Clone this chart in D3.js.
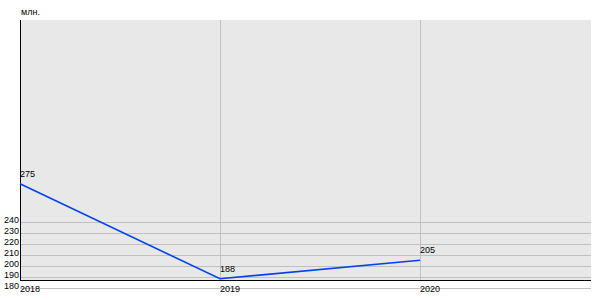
<!DOCTYPE html>
<html lang="ru">
<head>
<meta charset="utf-8">
<script src="https://d3js.org/d3.v7.min.js"></script>
<style>
  body { margin: 0; background: #fff; }
  text { font-family: "Liberation Sans", Arial, sans-serif; font-size: 9px; fill: #000; }
</style>
</head>
<body>
<div id="chart"></div>
<script>
// data
const years = [2018, 2019, 2020];
const values = [275, 188, 205];
const yTicks = [180, 190, 200, 210, 220, 230, 240];
const unitLabel = "млн.";

const width = 600, height = 300;
const plotLeft = 20, plotRight = 591, plotTop = 20, plotBottom = 280.5;

const svg = d3.select("#chart").append("svg")
  .attr("width", width)
  .attr("height", height);

// x: one year = 200px, plot runs a bit past the last year
const x = d3.scaleLinear().domain([2018, 2020]).range([plotLeft, 420]);
// y: the ticks only cover the bottom of the plot
const y = d3.scaleLinear().domain([180, 240]).range([287.5, 222]);

// plot background
svg.append("rect")
  .attr("x", plotLeft).attr("y", plotTop)
  .attr("width", plotRight - plotLeft).attr("height", plotBottom - plotTop)
  .attr("fill", "#e8e8e8");

// horizontal grid
svg.append("g")
  .selectAll("line")
  .data(yTicks)
  .enter().append("line")
  .attr("x1", plotLeft).attr("x2", plotRight)
  .attr("y1", d => Math.round(y(d)) + 0.5)
  .attr("y2", d => Math.round(y(d)) + 0.5)
  .attr("stroke", "#c0c0c0");

// vertical grid
svg.append("g")
  .selectAll("line")
  .data(years)
  .enter().append("line")
  .attr("x1", d => Math.round(x(d)) + 0.5)
  .attr("x2", d => Math.round(x(d)) + 0.5)
  .attr("y1", plotTop).attr("y2", plotBottom)
  .attr("stroke", "#c0c0c0");

// axes lines
svg.append("line")
  .attr("x1", plotLeft + 0.5).attr("x2", plotLeft + 0.5)
  .attr("y1", plotTop).attr("y2", plotBottom)
  .attr("stroke", "#000");
svg.append("line")
  .attr("x1", plotLeft).attr("x2", plotRight)
  .attr("y1", plotBottom).attr("y2", plotBottom)
  .attr("stroke", "#000");

// y tick labels
svg.append("g")
  .selectAll("text")
  .data(yTicks)
  .enter().append("text")
  .attr("x", plotLeft - 1)
  .attr("y", d => Math.round(y(d)) + 1)
  .attr("text-anchor", "end")
  .text(d => d);

// x tick labels
svg.append("g")
  .selectAll("text")
  .data(years)
  .enter().append("text")
  .attr("x", d => x(d))
  .attr("y", 292)
  .text(d => d);

// unit label
svg.append("text")
  .attr("x", 21).attr("y", 15)
  .text(unitLabel);

// line
const pts = years.map((yr, i) => [yr, values[i]]);
svg.append("path")
  .datum(pts)
  .attr("fill", "none")
  .attr("stroke", "#0044ee")
  .attr("stroke-width", 1.6)
  .attr("d", d3.line().x(d => x(d[0])).y(d => y(d[1])));

// value labels
svg.append("g")
  .selectAll("text")
  .data(pts)
  .enter().append("text")
  .attr("x", d => x(d[0]))
  .attr("y", d => y(d[1]) - 7)
  .text(d => d[1]);
</script>
</body>
</html>
